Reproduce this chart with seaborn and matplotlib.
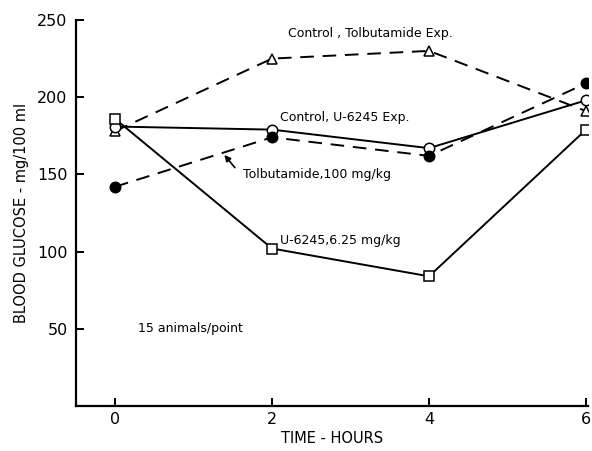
import matplotlib
matplotlib.use("Agg")
import matplotlib.pyplot as plt
import seaborn as sns
import pandas as pd

hours = [0, 2, 4, 6]
control_tolb = [178, 225, 230, 191]
control_u6245 = [181, 179, 167, 198]
tolbutamide = [142, 174, 162, 209]
u6245 = [186, 102, 84, 179]

x_ticks = [0, 2, 4, 6]
y_ticks = [50, 100, 150, 200, 250]

sns.set_theme(style="white")
plt.rcParams['font.family'] = ['DejaVu Sans']
plt.rcParams['text.color'] = 'black'
plt.rcParams['axes.labelcolor'] = 'black'

fig = plt.figure(figsize=(5.92, 4.51), dpi=100)
ax = fig.add_axes([76/592, 45/451, (588-76)/592, (406-20)/451])

series = [
    ("Control, Tolbutamide Exp.", control_tolb, "--", "^", "white"),
    ("Control, U-6245 Exp.", control_u6245, "-", "o", "white"),
    ("Tolbutamide, 100 mg/kg", tolbutamide, "--", "o", "black"),
    ("U-6245, 6.25 mg/kg", u6245, "-", "s", "white"),
]
for name, vals, ls, mk, fc in series:
    df = pd.DataFrame({"hours": hours, "glucose": vals})
    n0 = len(ax.lines)
    sns.lineplot(data=df, x="hours", y="glucose", ax=ax, color="black",
                 linestyle=ls, linewidth=1.4, marker=mk, markersize=7.5,
                 markerfacecolor=fc, markeredgecolor="black", markeredgewidth=1.1,
                 zorder=3)
    if ls == "--":
        for ln in ax.lines[n0:]:
            ln.set_dashes([7, 4.5])

ax.set_xlim(-0.497, 6.025)
ax.set_ylim(0, 250)
ax.set_xticks(x_ticks)
ax.set_yticks(y_ticks)
ax.set_xticklabels([str(t) for t in x_ticks])
ax.set_yticklabels([str(t) for t in y_ticks])
ax.tick_params(axis="both", direction="in", length=6, width=1.4, colors="black",
               labelsize=11.5, bottom=True, left=True)
ax.tick_params(axis="x", pad=4)
ax.tick_params(axis="y", pad=6)
for s in ["top", "right"]:
    ax.spines[s].set_visible(False)
for s in ["left", "bottom"]:
    ax.spines[s].set_color("black")
    ax.spines[s].set_linewidth(1.6)

ax.set_xlabel("TIME - HOURS", fontsize=10.5, labelpad=3)
ax.set_ylabel("BLOOD GLUCOSE - mg/100 ml", fontsize=10.5, labelpad=6)

fs = 9
ax.text(2.2, 241, "Control , Tolbutamide Exp.", fontsize=fs, ha="left", va="center", color="black")
ax.text(2.1, 187, "Control, U-6245 Exp.", fontsize=fs, ha="left", va="center", color="black")
ax.text(1.63, 150, "Tolbutamide,100 mg/kg", fontsize=fs, ha="left", va="center", color="black")
ax.text(2.1, 107, "U-6245,6.25 mg/kg", fontsize=fs, ha="left", va="center", color="black")
ax.text(0.29, 50, "15 animals/point", fontsize=fs, ha="left", va="center", color="black")
ax.annotate("", xy=(1.37, 164), xytext=(1.55, 153),
            arrowprops=dict(arrowstyle="-|>", color="black", lw=1.2,
                            mutation_scale=9))

fig.savefig("out.png", dpi=100)
